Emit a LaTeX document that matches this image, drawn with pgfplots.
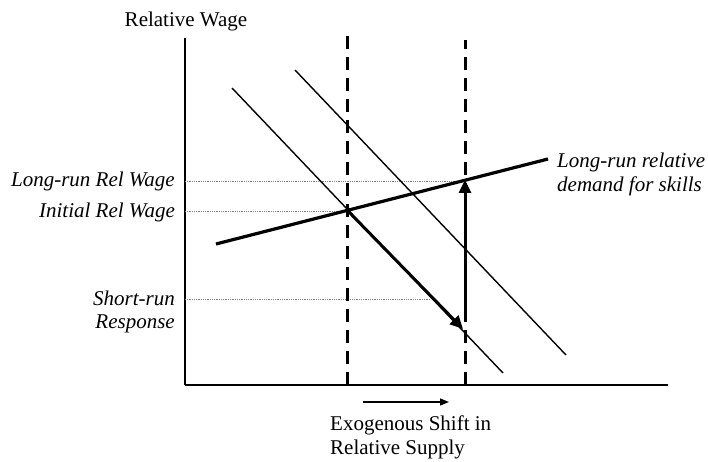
\documentclass[border=0pt]{standalone}
\usepackage{pgfplots}
\pgfplotsset{compat=1.18}
\usetikzlibrary{arrows.meta}
\usepackage{fontspec}
\setmainfont{Liberation Serif}
\begin{document}
\fontsize{21bp}{25bp}\selectfont
\begin{tikzpicture}[every node/.style={inner sep=0pt}]
\begin{axis}[
  scale only axis,
  width=483bp, height=347bp,
  xmin=0, xmax=483, ymin=0, ymax=347,
  axis lines=left,
  axis line style={-, line width=1.5bp},
  ticks=none,
  clip=false,
  ]
  % whole canvas, so the margins match
  \path (axis cs:-185,-77) rectangle (axis cs:523,385);
  % guide lines at the wage levels
  \addplot[densely dotted, gray, line width=0.8bp] coordinates {(0,204) (280,204)};
  \addplot[densely dotted, gray, line width=0.8bp] coordinates {(0,174) (162,174)};
  \addplot[densely dotted, gray, line width=0.8bp] coordinates {(0,86) (246,86)};
  % supply, before and after the shift
  \addplot[black, line width=3bp, dash pattern=on 13bp off 8bp] coordinates {(162,0) (162,354)};
  \addplot[black, line width=3bp, dash pattern=on 13bp off 8bp] coordinates {(280,0) (280,345)};
  % relative demand curves
  \addplot[black, line width=1.4bp] coordinates {(47,297) (318,12)};
  \addplot[black, line width=1.4bp] coordinates {(110,315) (381,30)};
  % long-run relative demand
  \addplot[black, line width=3.2bp] coordinates {(31,141) (363,226)};
  % adjustment arrows
  \addplot[black, line width=3bp, -{Triangle[length=13bp,width=12bp]}] coordinates {(162,175) (278,56)};
  \addplot[black, line width=3bp, -{Triangle[length=13bp,width=12bp]}] coordinates {(280,63) (280,205)};
  \addplot[black, line width=1.3bp, -{Triangle[length=9bp,width=7bp]}] coordinates {(178,-17) (264,-17)};
  % text
  \node at (axis cs:1,364) {Relative Wage};
  \node[anchor=east] at (axis cs:-10,204) {\itshape Long-run Rel Wage};
  \node[anchor=east] at (axis cs:-10,173) {\itshape Initial Rel Wage};
  \node[anchor=east] at (axis cs:-10,87) {\itshape Short-run};
  \node[anchor=east] at (axis cs:-10,61) {\itshape Response};
  \node[anchor=west] at (axis cs:372,223) {\itshape Long-run relative};
  \node[anchor=west] at (axis cs:372,199) {\itshape demand for skills};
  \node[anchor=west] at (axis cs:145,-40) {Exogenous Shift in};
  \node[anchor=west] at (axis cs:145,-64) {Relative Supply};
\end{axis}
\end{tikzpicture}
\end{document}
